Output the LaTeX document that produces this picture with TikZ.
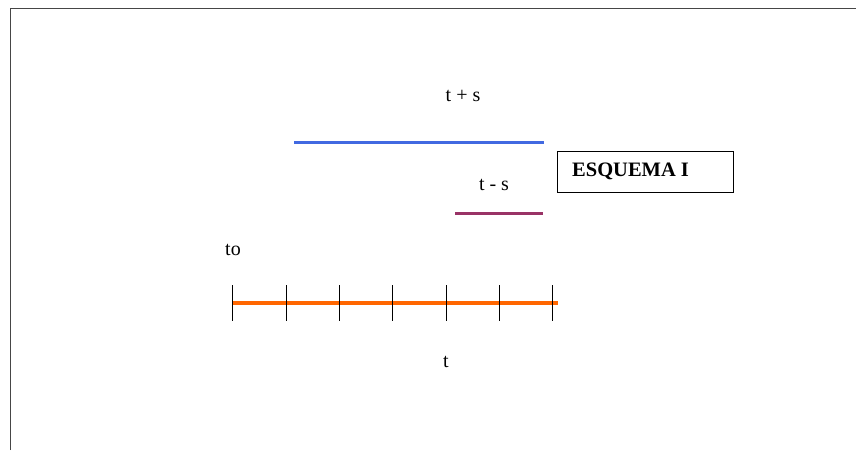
\documentclass[tikz,border=0pt]{standalone}
\usepackage{fontspec}
\setmainfont{Liberation Serif}
\definecolor{frameGray}{RGB}{70,70,70}
\definecolor{lineBlue}{RGB}{65,105,225}
\definecolor{linePlum}{RGB}{153,51,102}
\definecolor{lineOrange}{RGB}{255,102,0}
\begin{document}
\begin{tikzpicture}[x=1pt,y=-1pt,
  lbl/.style={font=\fontsize{20}{23}\selectfont, inner sep=0pt},
  boxlbl/.style={draw=black, line width=1pt, minimum width=176pt, minimum height=41pt, inner sep=0pt},
  tickmark/.style={line width=1pt, black},
  seg/.style={line width=3pt}]
\useasboundingbox (0,0) rectangle (856,450);
% frame (partially visible)
\coordinate (f1) at (10.5,450);
\coordinate (f2) at (10.5,8.5);
\coordinate (f3) at (856,8.5);
\draw[frameGray, line width=1.6pt] (f1) -- (f2) -- (f3);
% labels
\node[lbl] (tps) at (463,96) {t + s};
\node[lbl] (tms) at (494,185) {t - s};
\node[lbl] (to) at (233,250) {to};
\node[lbl] (t) at (446,362) {t};
\node[boxlbl] (esq) at (645,171.5) {};
\node[anchor=west, inner sep=0pt, font=\fontsize{20.5}{23}\selectfont\bfseries] (esqtxt) at (572,171.5) {ESQUEMA I};
% blue segment
\coordinate (b1) at (294,142);
\coordinate (b2) at (544,142);
\draw[lineBlue, seg] (b1) -- (b2);
% plum segment
\coordinate (p1) at (455,213);
\coordinate (p2) at (543,213);
\draw[linePlum, seg] (p1) -- (p2);
% orange axis
\coordinate (o1) at (232,303);
\coordinate (o2) at (558,303);
\draw[lineOrange, line width=3.5pt] (o1) -- (o2);
\foreach \x in {232,286,339,392,446,499,552}{
  \draw[tickmark] (\x,285) -- (\x,321);
}
\end{tikzpicture}
\end{document}
